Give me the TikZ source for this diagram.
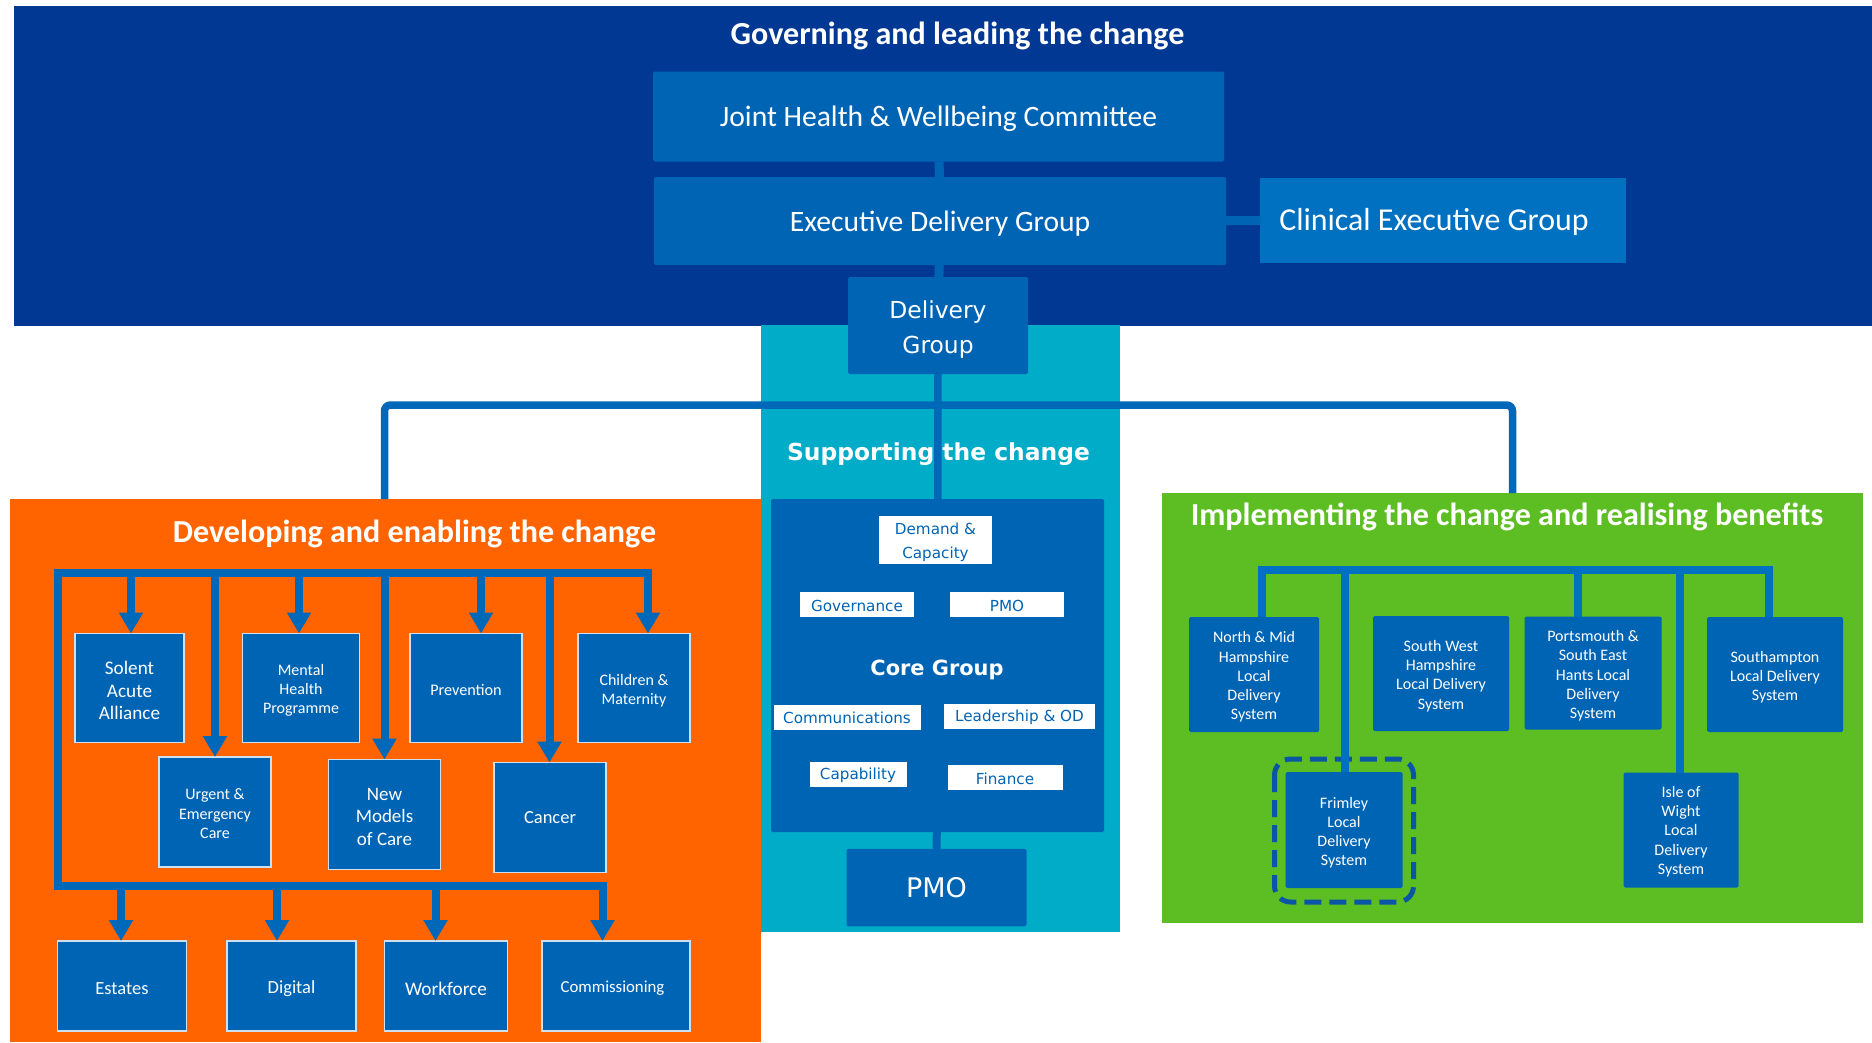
\documentclass[tikz,border=0pt]{standalone}
\usepackage{fontspec}
\setmainfont{Carlito}
\newfontfamily\verdana{DejaVu Sans}
\usetikzlibrary{arrows.meta,positioning,calc}

\definecolor{govnavy}{HTML}{003893}
\definecolor{boxblue}{HTML}{0064B5}
\definecolor{clinblue}{HTML}{0070C0}
\definecolor{linkblue}{HTML}{0068B8}
\definecolor{supteal}{HTML}{00ACC8}
\definecolor{devorange}{HTML}{FF6400}
\definecolor{implgreen}{HTML}{5CBE22}
\definecolor{dashblue}{HTML}{0A56A5}

\newcommand{\fs}[2]{\fontsize{#1}{#2}\selectfont}
\newcommand{\lift}[1][0.95em]{\rule{0pt}{#1}}

\begin{document}
\begin{tikzpicture}[
    x=1pt, y=-1pt,
    font=\fs{16}{19.2},
    lift/.store in=\liftamt, lift=0.95em,
    panel/.style={rectangle, inner sep=0pt, outer sep=0pt, anchor=north west},
    title/.style={text=white, font=\bfseries\fs{32.1}{36}},
    box/.style={rectangle, fill=boxblue, text=white, align=center, inner sep=2pt, outer sep=0pt, rounded corners=1.5pt, execute at begin node={\lift[\liftamt]}},
    obox/.style={box, draw=white!80!boxblue, line width=1.5pt, rounded corners=0pt},
    wbox/.style={box, fill=white, text=boxblue, inner sep=0pt, rounded corners=0pt, minimum height=25pt, font=\verdana\fs{15.2}{24}, lift=0.92em},
    govlink/.style={draw=boxblue, line width=9pt},
    mainlink/.style={draw=linkblue, line width=7.5pt, rounded corners=6pt},
    link/.style={draw=linkblue, line width=8pt},
    arr/.style={link, -{Triangle[width=23pt,length=21pt]}}
]
    \useasboundingbox (0,0) rectangle (1872,1042);

    % panels
    \node[panel, fill=govnavy, minimum width=1858pt, minimum height=319.5pt] (gov) at (14,6) {};
    \node[panel, fill=supteal, minimum width=359.5pt, minimum height=607pt] (sup) at (760.5,325) {};
    \node[panel, fill=devorange, minimum width=751pt, minimum height=543pt] (dev) at (9.6,499) {};
    \node[panel, fill=implgreen, minimum width=701pt, minimum height=430pt] (impl) at (1161.6,493) {};

    % Governing
    \node[title] (govtitle) at (957.5,35.5) {Governing and leading the change};
    \node[box, minimum width=571pt, minimum height=90pt, font=\fs{29.6}{35}, lift=0.87em] (jhwc) at (938.5,116.5) {Joint Health \& Wellbeing Committee};
    \node[box, minimum width=572pt, minimum height=88pt, font=\fs{29.6}{35}, lift=0.87em] (edg) at (940,221) {Executive Delivery Group};
    \node[box, fill=clinblue, rounded corners=0pt, minimum width=366pt, minimum height=85pt, font=\fs{31.9}{36}, lift=0.8em] (ceg) at (1443,220.5) {Clinical Executive Group\hspace*{18pt}};
    \node[box, minimum width=180pt, minimum height=97pt, font=\verdana\fs{23.4}{35}] (dg) at (938,325.5) {\lift[1.07em]Delivery\\Group};

    \draw[govlink] (jhwc) -- (edg);
    \draw[govlink] (edg) -- (dg);
    \draw[govlink] (edg) -- (ceg);

    % Supporting
    \node[panel, fill=boxblue, minimum width=333pt, minimum height=333pt, rounded corners=1.5pt] (core) at (771,499) {};
    \node[wbox, minimum width=113pt, minimum height=48pt] (dc) at (935.5,539.5) {\lift[1.08em]Demand \&\\Capacity};
    \node[wbox, minimum width=114.5pt] (gover) at (857,604.5) {Governance};
    \node[wbox, minimum width=114pt] (pmos) at (1007,604.5) {PMO};
    \node[text=white, font=\verdana\bfseries\fs{20.9}{24}] (coretitle) at (937,669.5) {Core Group};
    \node[wbox, minimum width=147pt] (comms) at (847,717) {Communications};
    \node[wbox, minimum width=151pt] (lod) at (1019.5,716) {Leadership \& OD};
    \node[wbox, minimum width=97pt] (capab) at (858,774) {Capability};
    \node[wbox, minimum width=115pt] (fin) at (1005,777.5) {Finance};
    \node[box, minimum width=180pt, minimum height=77.5pt, font=\verdana\fs{27}{30}, lift=0.77em] (pmo) at (936.5,887.5) {PMO};

    \coordinate (mainL) at (384.5,405);
    \coordinate (mainR) at (1512.5,405);
    \draw[mainlink] (dg) -- (core);
    \draw[mainlink] (dev.north -| mainL) -- (mainL) -- (mainR) -- (impl.north -| mainR);
    \draw[link, draw=boxblue] (core) -- (pmo);
    \node[text=white, font=\verdana\bfseries\fs{23.4}{28}] (suptitle) at (938.5,454.5) {Supporting the change};

    % Developing
    \node[title] (devtitle) at (414.5,533.5) {Developing and enabling the change};
    \node[obox, minimum width=109pt, minimum height=109pt, font=\fs{19.2}{22.7}] (saa) at (129.5,688) {\lift Solent\\Acute\\Alliance};
    \node[obox, minimum width=117pt, minimum height=109pt] (mhp) at (301,688) {\lift[1em]Mental\\Health\\Programme};
    \node[obox, minimum width=112pt, minimum height=109pt, font=\fs{16.2}{19.2}] (prev) at (466,688) {Prevention};
    \node[obox, minimum width=112pt, minimum height=109pt] (cmat) at (634,688) {\lift[1em]Children \&\\Maternity};
    \node[obox, minimum width=112pt, minimum height=110pt] (uec) at (215,812) {\lift[0.9em]Urgent \&\\Emergency\\Care};
    \node[obox, minimum width=112pt, minimum height=110pt, font=\fs{19}{22.5}] (nmoc) at (384.5,814.5) {\lift[0.85em]New\\Models\\of Care};
    \node[obox, minimum width=112pt, minimum height=110pt, font=\fs{18.5}{22}, lift=0pt] (cancer) at (550,817.5) {Cancer};
    \node[obox, minimum width=129pt, minimum height=90pt, font=\fs{18.5}{22}] (est) at (122,986) {Estates};
    \node[obox, minimum width=129pt, minimum height=90pt, font=\fs{18.5}{22}] (dig) at (291.5,986) {Digital};
    \node[obox, minimum width=123pt, minimum height=90pt, font=\fs{19.3}{22}] (wf) at (446,986) {Workforce};
    \node[obox, minimum width=148pt, minimum height=90pt, font=\fs{16.8}{20}] (comm) at (616,986) {Commissioning\hspace*{7pt}};

    \coordinate (busTL) at (57.5,573);
    \coordinate (busTR) at (648,573);
    \coordinate (busBL) at (57.5,886);
    \coordinate (busBR) at (603,886);
    \draw[link] (busTR) -- (busTL) -- (busBL) -- (busBR);
    \foreach \n/\s in {saa/1.5pt, uec/0pt, mhp/-2pt, nmoc/0pt, prev/15pt, cancer/-0.5pt, cmat/14pt}
        \draw[arr] ([xshift=\s, yshift=4pt]\n.north |- busTL) -- ([xshift=\s]\n.north);
    \foreach \n/\s in {est/-1pt, dig/-14.5pt, wf/-10.5pt, comm/-13.5pt}
        \draw[arr] ([xshift=\s, yshift=4pt]\n.north |- busBL) -- ([xshift=\s]\n.north);

    % Implementing
    \node[title] (impltitle) at (1507,517) {Implementing the change and realising benefits};
    \node[box, minimum width=130pt, minimum height=115pt] (nmh) at (1254,674.5) {\lift[1em]North \& Mid\\Hampshire\\Local\\Delivery\\System};
    \node[box, minimum width=136pt, minimum height=115pt] (swh) at (1441,673.5) {\lift[1em]South West\\Hampshire\\Local Delivery\\System};
    \node[box, minimum width=137pt, minimum height=113pt] (pse) at (1593,673) {\lift[1.05em]Portsmouth \&\\South East\\Hants Local\\Delivery\\System};
    \node[box, minimum width=136pt, minimum height=115pt] (soton) at (1775,674.5) {\lift[1em]Southampton\\Local Delivery\\System};
    \node[box, minimum width=117pt, minimum height=116pt] (frim) at (1344,830) {\lift[1.05em]Frimley\\Local\\Delivery\\System};
    \node[box, minimum width=115pt, minimum height=115pt] (iow) at (1681,830) {\lift[0.9em]Isle of\\Wight\\Local\\Delivery\\System};

    \draw[dashblue, line width=5pt, dash pattern=on 17pt off 8pt, rounded corners=16pt]
        ($(frim.north west)+(-11,-13)$) rectangle ($(frim.south east)+(11,14)$);

    \coordinate (gbusL) at (1261.5,570);
    \coordinate (gbusR) at (1769,570);
    \draw[link, draw=clinblue] (nmh.north -| gbusL) -- (gbusL) -- (gbusR) -- (soton.north -| gbusR);
    \foreach \n/\s in {frim/1pt, pse/-15pt, iow/-1pt}
        \draw[link, draw=clinblue] ([xshift=\s, yshift=4pt]\n.north |- gbusL) -- ([xshift=\s]\n.north);
\end{tikzpicture}
\end{document}
